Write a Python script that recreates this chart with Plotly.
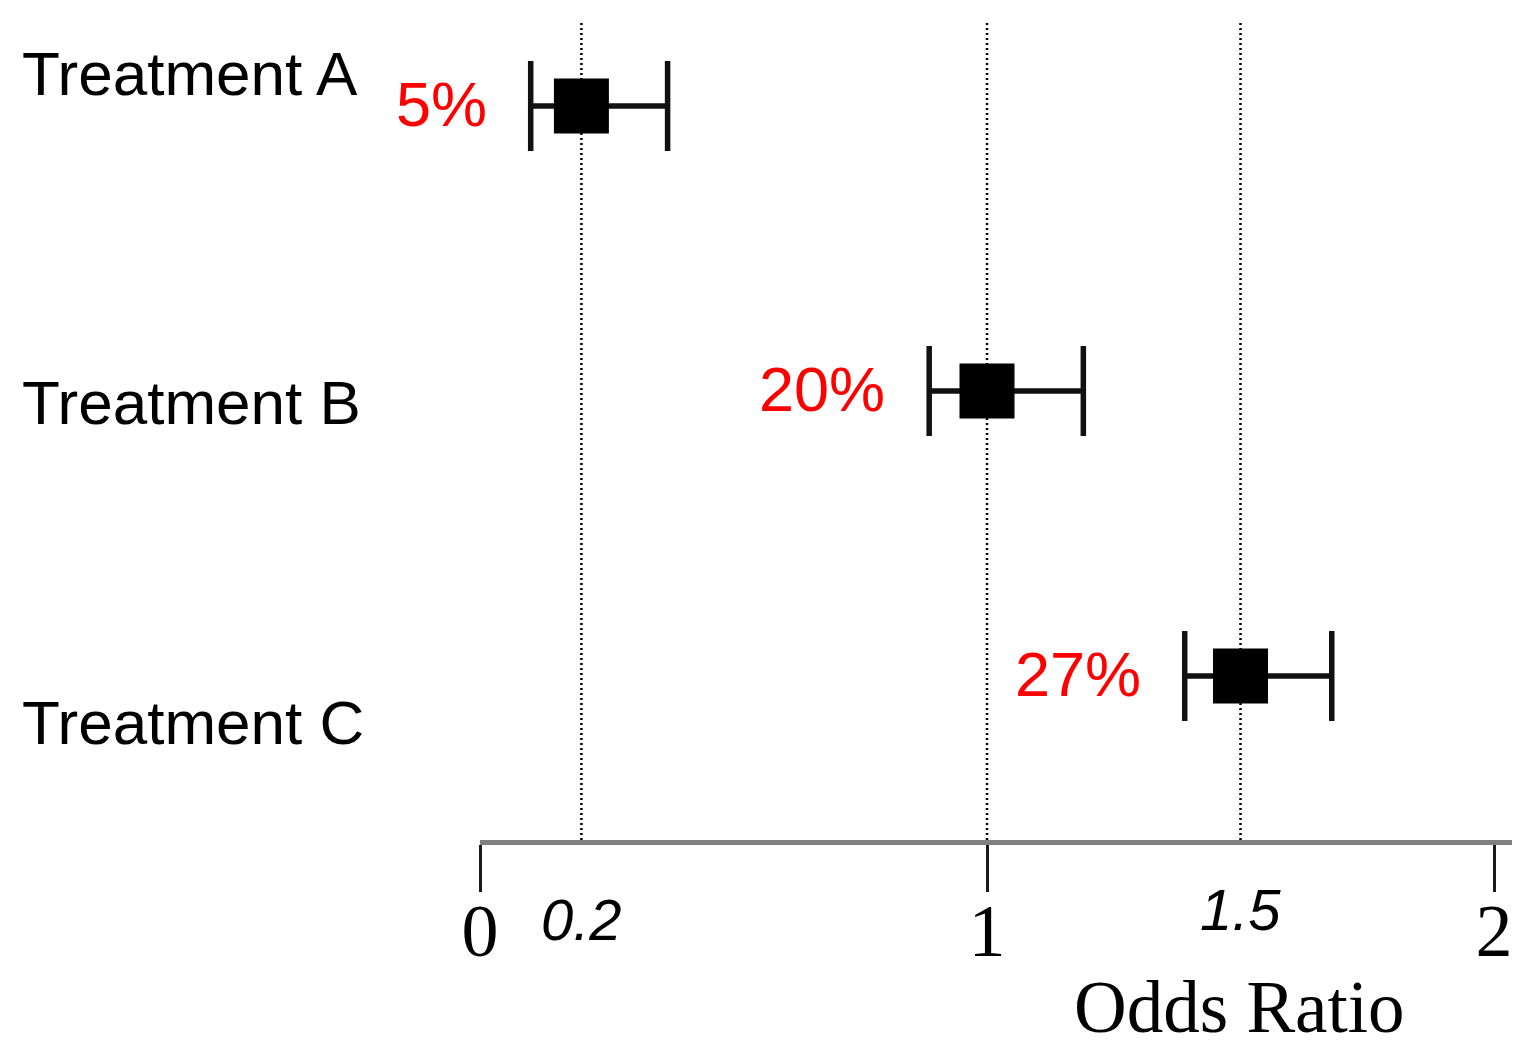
import plotly.graph_objects as go

# ---- data ----
TREATMENTS = ["Treatment A", "Treatment B", "Treatment C"]
ODDS_RATIO = [0.2, 1.0, 1.5]
CI_LOW = [0.10, 0.886, 1.39]
CI_HIGH = [0.37, 1.19, 1.68]
PCT_LABELS = ["5%", "20%", "27%"]
REF_LINES = [0.2, 1.0, 1.5]
AXIS_TICKS = [0, 1, 2]
AXIS_TICK_TEXT = ["0", "1", "2"]
REF_TICKS = [0.2, 1.5]
REF_TICK_TEXT = ["0.2", "1.5"]
X_TITLE = "Odds Ratio"

SANS = "Liberation Sans, Arial, sans-serif"
SERIF = "Liberation Serif, Times New Roman, serif"

fig = go.Figure()

fig.add_trace(go.Scatter(
    x=ODDS_RATIO,
    y=TREATMENTS,
    mode="markers",
    marker=dict(symbol="square", size=55, color="black"),
    error_x=dict(
        type="data",
        symmetric=False,
        array=[h - v for h, v in zip(CI_HIGH, ODDS_RATIO)],
        arrayminus=[v - l for v, l in zip(ODDS_RATIO, CI_LOW)],
        thickness=5.5,
        width=45,
        color="#111111",
    ),
    showlegend=False,
    hoverinfo="skip",
))

# dotted reference lines
for v in REF_LINES:
    fig.add_shape(type="line", xref="x", yref="paper", x0=v, x1=v, y0=0, y1=1,
                  line=dict(color="black", width=2.5, dash="2px,3px"), layer="below")

annotations = []
# treatment labels (left side)
label_shift = [33, -11, -46]
for t, ys in zip(TREATMENTS, label_shift):
    annotations.append(dict(
        x=0, xref="paper", xanchor="left", xshift=-460,
        y=t, yref="y", yanchor="middle", yshift=ys,
        text=t, showarrow=False,
        font=dict(family=SANS, size=62, color="black"),
    ))
# red percentages
for t, lo, p in zip(TREATMENTS, CI_LOW, PCT_LABELS):
    annotations.append(dict(
        x=lo, xref="x", xanchor="right", xshift=-42,
        y=t, yref="y", yanchor="middle", yshift=2,
        text=p, showarrow=False,
        font=dict(family=SANS, size=63, color="#ff0000"),
    ))
# italic reference tick labels
for v, txt, ys in zip(REF_TICKS, REF_TICK_TEXT, [-45, -35]):
    annotations.append(dict(
        x=v, xref="x", xanchor="center",
        y=0, yref="paper", yanchor="top", yshift=ys,
        text="<i>" + txt + "</i>", showarrow=False,
        font=dict(family=SANS, size=58, color="black"),
    ))
# axis title
annotations.append(dict(
    x=0.7364, xref="paper", xanchor="center",
    y=0, yref="paper", yanchor="middle", yshift=-167,
    text=X_TITLE, showarrow=False,
    font=dict(family=SERIF, size=73, color="black"),
))

fig.update_layout(
    width=1514, height=1055,
    margin=dict(l=480, r=2, t=20, b=215),
    paper_bgcolor="white", plot_bgcolor="white",
    annotations=annotations,
    xaxis=dict(
        range=[0, 2.0355],
        tickvals=AXIS_TICKS, ticktext=AXIS_TICK_TEXT,
        ticks="outside", ticklen=47, tickwidth=3, tickcolor="#1a1a1a",
        tickfont=dict(family=SERIF, size=74, color="black"),
        ticklabelstandoff=-25,
        showline=True, linecolor="#808080", linewidth=5,
        showgrid=False, zeroline=False,
    ),
    yaxis=dict(
        type="category", categoryorder="array", categoryarray=TREATMENTS,
        range=[2.575, -0.302],
        showticklabels=False, showgrid=False, zeroline=False, showline=False,
        ticks="",
    ),
)

fig.write_html(
    "out.html",
    config={"displayModeBar": False},
    post_script="document.body.style.margin='0';document.body.style.overflow='hidden';",
)
